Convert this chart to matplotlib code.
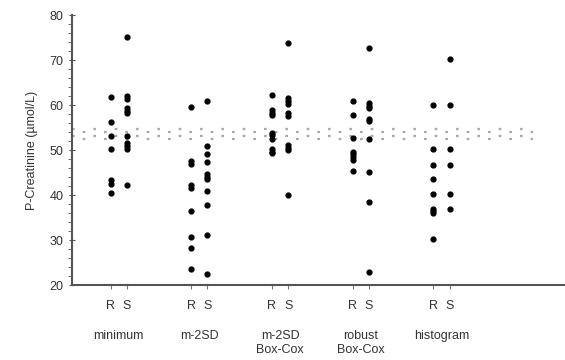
import matplotlib
matplotlib.use('Agg')
import matplotlib.pyplot as plt
import numpy as np
from matplotlib.ticker import MultipleLocator

plt.rcParams['font.family'] = ['Liberation Sans', 'DejaVu Sans']

methods = ['minimum', 'm-2SD', 'm-2SD\nBox-Cox', 'robust\nBox-Cox', 'histogram']

# estimated lower reference limits (R) and S values per method
r_vals = [
    [61.8, 56.3, 53.2, 50.2, 43.3, 42.4, 40.4],
    [59.5, 47.6, 47.0, 42.2, 41.6, 36.4, 30.6, 28.2, 23.5],
    [62.2, 58.9, 58.3, 57.8, 53.9, 53.3, 52.4, 50.2, 49.6, 49.3],
    [60.9, 57.8, 52.7, 49.6, 49.1, 48.5, 47.9, 45.4],
    [60.0, 50.2, 46.8, 43.5, 40.2, 37.0, 36.5, 36.1, 30.2],
]
s_vals = [
    [75.2, 62.0, 61.4, 59.3, 58.7, 58.2, 53.2, 51.5, 51.0, 50.2, 42.2],
    [60.9, 51.0, 49.1, 47.3, 44.8, 44.1, 43.5, 41.0, 37.8, 31.1, 22.4],
    [73.8, 61.5, 60.9, 60.2, 58.2, 57.6, 51.1, 50.5, 50.0, 40.0],
    [72.7, 60.5, 59.9, 59.3, 57.0, 56.5, 52.4, 45.2, 38.5, 23.0],
    [70.2, 60.0, 50.2, 46.8, 40.2, 37.0],
]
band_low, band_high = 52.4, 54.7

fig = plt.figure(figsize=(5.65, 3.6), dpi=100)
ax = fig.add_axes([0.127, 0.208, 0.873, 0.75])

# dotted reference band
for k, yv in enumerate(np.linspace(band_high, band_low, 4)):
    off = 0 if k % 2 == 0 else 4.8
    ax.hlines(yv, 0.42, 6.13, colors='#a8a8a8', linewidth=1.6,
              linestyles=[(off, (1.2, 8.4))], zorder=1)

ticks = []
labels = []
for i in range(len(methods)):
    xr = i + 1 - 0.1
    xs = i + 1 + 0.1
    ax.scatter([xr] * len(r_vals[i]), r_vals[i], s=12, c='black', zorder=3)
    ax.scatter([xs] * len(s_vals[i]), s_vals[i], s=12, c='black', zorder=3)
    ticks += [xr, xs]
    labels += ['R', 'S']
    ax.text(i + 1, -0.165, methods[i], transform=ax.get_xaxis_transform(),
            ha='center', va='top', fontsize=9, color='#333333', linespacing=1.3)

ax.set_xlim(0.42, 6.53)
ax.set_ylim(20, 80)
ax.set_xticks(ticks)
ax.set_xticklabels(labels, fontsize=9, color='#333333')
ax.yaxis.set_major_locator(MultipleLocator(10))
ax.yaxis.set_minor_locator(MultipleLocator(2))
ax.tick_params(axis='y', which='major', length=5, direction='inout', labelsize=9,
               colors='#555555', labelcolor='#333333')
ax.tick_params(axis='y', which='minor', length=3, direction='out', colors='#555555')
ax.tick_params(axis='x', length=3, direction='out', colors='#777777',
               labelcolor='#333333', pad=8)
ax.spines['top'].set_visible(False)
ax.spines['right'].set_visible(False)
ax.spines['left'].set_color('#555555')
ax.spines['bottom'].set_color('#555555')
ax.spines['left'].set_linewidth(1.5)
ax.spines['bottom'].set_linewidth(1.5)
ax.set_ylabel('P-Creatinine (µmol/L)', fontsize=9, color='#333333', labelpad=8)

fig.savefig('out.png', dpi=100)
